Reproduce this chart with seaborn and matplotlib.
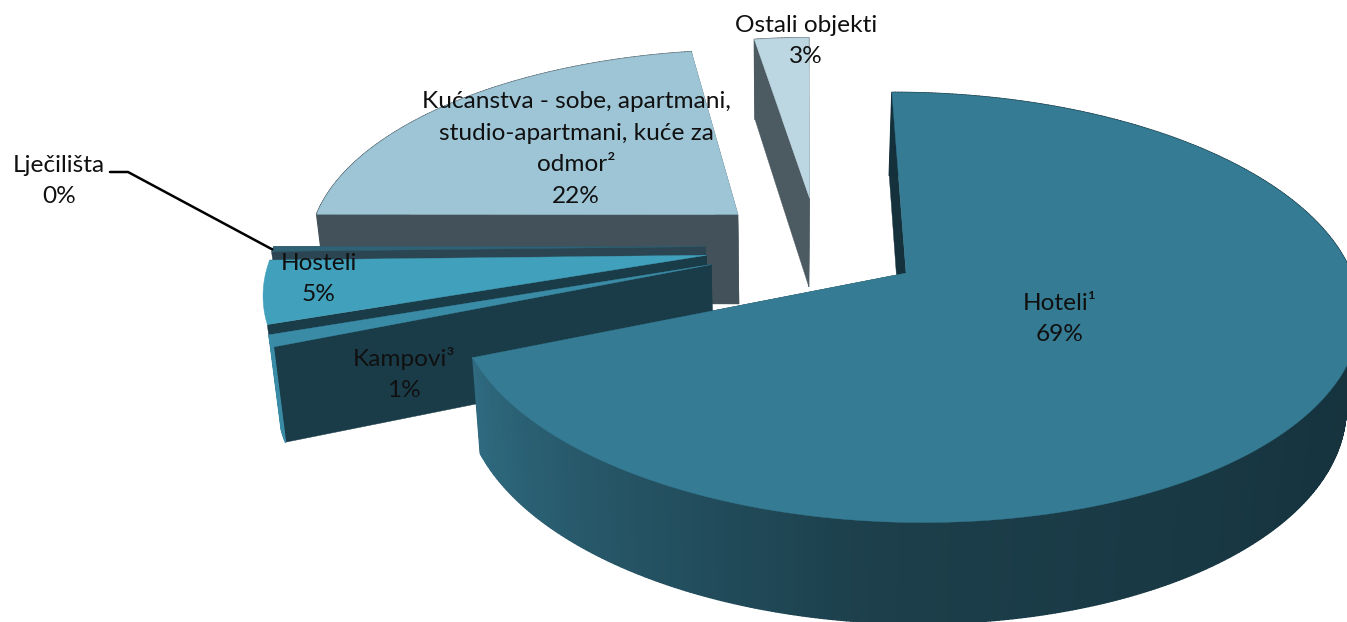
import numpy as np
import matplotlib
matplotlib.use("Agg")
import matplotlib.pyplot as plt
import seaborn as sns
from matplotlib.collections import PolyCollection

# slice values, clockwise from the top of the pie
categories = ["Hoteli¹", "Kampovi³", "Hosteli", "Lječilišta",
              "Kućanstva - sobe, apartmani,\nstudio-apartmani, kuće za\nodmor²", "Ostali objekti"]
values = [68.9, 0.9, 4.9, 0.4, 22.5, 2.4]
pct_labels = ["69%", "1%", "5%", "0%", "22%", "3%"]

top_colors = ["#347b93", "#3a8ba6", "#41a0bb", "#2f6274", "#9dc5d6", "#bcd6e2"]
wall_colors = ["#15323c", "#1a3c48", "#1a3c48", "#2c4552", "#43525a", "#4c5a62"]
rim_colors = [["#14303a", "#14303a", "#16343f", "#1c3f4b", "#2f6a80"], ["#3a8ba6"], None, None,
              ["#43525a"], ["#4c5a62"]]
explode = [0.24, 0.26, 0.26, 0.26, 0.25, 0.25]
radius = [1.01, 1, 1, 1, 1, 1]
wall_depth = [1, 1, 0.2, 0.2, 1, 1]
label_xy = [(1060, 319), (404, 374), (319, 279), (59, 181), (576, 149), (806, 41)]

# projection of the tilted pie
start_deg = -0.3
cx, cy = 818, 246
Rx, Ry, persp = 432, 199, 0.155


def project(X, Y, drop=0.0):
    s = 1 / (1 + persp * Y)
    px = cx + Rx * X * s
    py = cy - Ry * Y * s + drop * (91 - 9 * Y)
    # the lower edge leans slightly towards the vanishing point
    px = px + drop * (780 - px) * 0.024
    return px, py


sns.set_theme(style="white")
plt.rcParams["font.family"] = ["Lato", "DejaVu Sans"]

fig = plt.figure(figsize=(13.47, 6.22), dpi=100)
ax = fig.add_axes([0, 0, 1, 1])
ax.set_xlim(0, 1347)
ax.set_ylim(622, 0)
ax.axis("off")

edges = start_deg + np.concatenate([[0], np.cumsum(values)]) * 3.6

# painter's order, far slices first
lead_end = None
for i in [5, 4, 3, 2, 1, 0]:
    a0, a1 = np.radians(edges[i]), np.radians(edges[i + 1])
    mid = (a0 + a1) / 2
    ox, oy = explode[i] * np.sin(mid), explode[i] * np.cos(mid)
    ang = np.linspace(a0, a1, max(int(np.degrees(a1 - a0) * 2), 6))
    rx, ry = ox + radius[i] * np.sin(ang), oy + radius[i] * np.cos(ang)
    base = i * -3 + 20

    # straight walls
    for ex, ey in [(rx[0], ry[0]), (rx[-1], ry[-1])]:
        tx = np.linspace(ox, ex, 30)
        ty = np.linspace(oy, ey, 30)
        x1, y1 = project(tx, ty)
        x2, y2 = project(tx, ty, drop=wall_depth[i])
        ax.fill(np.r_[x1, x2[::-1]], np.r_[y1, y2[::-1]], color=wall_colors[i], lw=0.3, zorder=base)

    # outer rim, shaded around the pie
    if rim_colors[i] is not None:
        x1, y1 = project(rx, ry)
        x2, y2 = project(rx, ry, drop=wall_depth[i])
        quads = [[(x1[j], y1[j]), (x1[j + 1], y1[j + 1]), (x2[j + 1], y2[j + 1]), (x2[j], y2[j])]
                 for j in range(len(rx) - 1)]
        if len(rim_colors[i]) > 1:
            shade = sns.blend_palette(rim_colors[i], len(quads))
        else:
            shade = [rim_colors[i][0]] * len(quads)
        ax.add_collection(PolyCollection(quads, facecolors=shade, edgecolors=shade, linewidths=1.0,
                                         zorder=base + 1))

    # top face
    tx, ty = project(np.r_[ox, rx], np.r_[oy, ry])
    ax.fill(tx, ty, color=top_colors[i], lw=0.3, zorder=base + 2)
    if categories[i] == "Lječilišta":
        lead_end = (tx[len(tx) // 2], ty[len(ty) // 2])

# leader line of the small slice
ax.plot([110, 128, lead_end[0]], [172, 172, lead_end[1]], color="black", lw=1.8, zorder=30)

for name, pct, (lx, ly) in zip(categories, pct_labels, label_xy):
    ax.text(lx, ly, name + "\n" + pct, ha="center", va="center", fontsize=17.6, color="#101010",
            linespacing=1.62, zorder=40)

fig.savefig("out.png", dpi=100)
